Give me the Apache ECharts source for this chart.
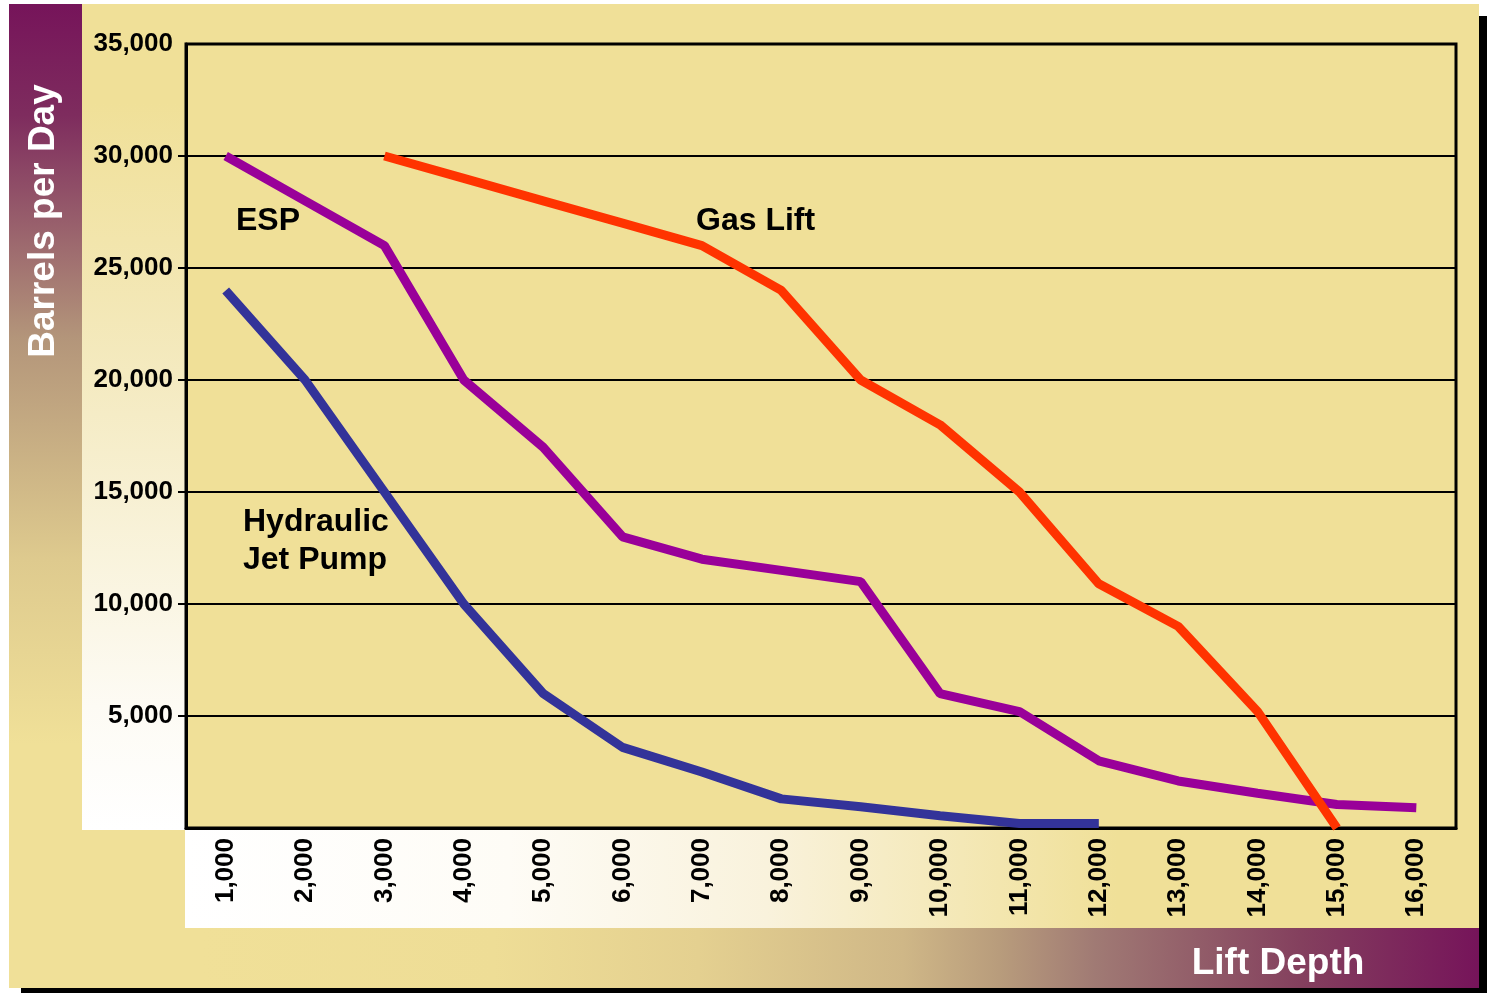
<!DOCTYPE html>
<html>
<head>
<meta charset="utf-8">
<script src="https://cdn.jsdelivr.net/npm/echarts@6/dist/echarts.min.js"></script>
<style>
html,body{margin:0;padding:0;background:#ffffff;}
#chart{width:1487px;height:993px;}
</style>
</head>
<body>
<div id="chart"></div>
<script>
// ---- data ----
const depthLabels = ['1,000','2,000','3,000','4,000','5,000','6,000','7,000','8,000','9,000','10,000','11,000','12,000','13,000','14,000','15,000','16,000'];
const espValues = [30000, 28000, 26000, 20000, 17000, 13000, 12000, 11500, 11000, 6000, 5200, 3000, 2100, 1550, 1050, 900];
const gasLiftValues = [null, null, 30000, 29000, 28000, 27000, 26000, 24000, 20000, 18000, 15000, 10900, 9000, 5200, 0, null];
const jetPumpValues = [24000, 20000, 15000, 10000, 6000, 3600, 2500, 1300, 950, 550, 200, 200, null, null, null, null];
const yTicks = [0, 5000, 10000, 15000, 20000, 25000, 30000, 35000];

const FONT = "'Liberation Sans', Arial, Helvetica, sans-serif";
const CARD = '#F0E098';

const chart = echarts.init(document.getElementById('chart'), null, {renderer: 'canvas'});

const fmt = v => v === 0 ? '' : String(v).replace(/\B(?=(\d{3})+(?!\d))/g, ',');

const option = {
  backgroundColor: 'transparent',
  animation: false,
  graphic: [
    // shadow
    {type: 'rect', z: -20, shape: {x: 21, y: 16, width: 1466, height: 977}, style: {fill: '#000000'}},
    // card
    {type: 'rect', z: -19, shape: {x: 9, y: 4, width: 1470, height: 984}, style: {fill: CARD}},
    // left bar gradient
    {type: 'rect', z: -18, shape: {x: 9, y: 4, width: 73, height: 740},
      style: {fill: new echarts.graphic.LinearGradient(0, 0, 0, 1, [
        {offset: 0, color: '#76145A'},
        {offset: 0.15, color: '#7E2C5E'},
        {offset: 0.45, color: '#B3957A'},
        {offset: 0.75, color: '#DECA8E'},
        {offset: 1, color: CARD}
      ])}},
    // white column behind y labels
    {type: 'rect', z: -18, shape: {x: 82, y: 4, width: 104, height: 826},
      style: {fill: new echarts.graphic.LinearGradient(0, 0, 0, 1, [
        {offset: 0, color: CARD},
        {offset: 0.12, color: CARD},
        {offset: 0.45, color: '#F4EAC0'},
        {offset: 0.85, color: '#FDFBF4'},
        {offset: 1, color: '#FFFFFF'}
      ])}},
    // x label strip
    {type: 'rect', z: -18, shape: {x: 185, y: 828, width: 1294, height: 100},
      style: {fill: new echarts.graphic.LinearGradient(0, 0, 1, 0, [
        {offset: 0, color: '#FFFFFF'},
        {offset: 0.25, color: '#FEFCF6'},
        {offset: 0.45, color: '#F9F2DC'},
        {offset: 0.72, color: CARD},
        {offset: 1, color: CARD}
      ])}},
    // bottom bar gradient
    {type: 'rect', z: -18, shape: {x: 200, y: 928, width: 1279, height: 60},
      style: {fill: new echarts.graphic.LinearGradient(0, 0, 1, 0, [
        {offset: 0, color: CARD},
        {offset: 0.23, color: '#EEDD96'},
        {offset: 0.39, color: '#E4D090'},
        {offset: 0.55, color: '#CFB787'},
        {offset: 0.625, color: '#B89C7C'},
        {offset: 0.70, color: '#A07A74'},
        {offset: 0.86, color: '#84405E'},
        {offset: 1, color: '#76145A'}
      ])}},
    // axis titles
    {type: 'text', z: 10, x: 44, y: 221, rotation: Math.PI / 2,
      style: {text: 'Barrels per Day', fill: '#FFFFFF', font: 'bold 37px ' + FONT, align: 'center', verticalAlign: 'middle'}},
    {type: 'text', z: 10, x: 1278, y: 964,
      style: {text: 'Lift Depth', fill: '#FFFFFF', font: 'bold 37px ' + FONT, align: 'center', verticalAlign: 'middle'}},
    // series annotations
    {type: 'text', z: 10, x: 236, y: 221,
      style: {text: 'ESP', fill: '#000000', font: 'bold 32px ' + FONT, align: 'left', verticalAlign: 'middle'}},
    {type: 'text', z: 10, x: 696, y: 221,
      style: {text: 'Gas Lift', fill: '#000000', font: 'bold 32px ' + FONT, align: 'left', verticalAlign: 'middle'}},
    {type: 'text', z: 10, x: 243, y: 522,
      style: {text: 'Hydraulic', fill: '#000000', font: 'bold 32px ' + FONT, align: 'left', verticalAlign: 'middle'}},
    {type: 'text', z: 10, x: 243, y: 560,
      style: {text: 'Jet Pump', fill: '#000000', font: 'bold 32px ' + FONT, align: 'left', verticalAlign: 'middle'}}
  ],
  grid: {
    left: 186, top: 44, right: 31, bottom: 165,
    show: true, backgroundColor: 'transparent', borderColor: '#000000', borderWidth: 3,
    containLabel: false
  },
  xAxis: {
    type: 'category',
    data: depthLabels,
    boundaryGap: true,
    axisLine: {show: true, lineStyle: {color: '#000000', width: 3}},
    axisTick: {show: false},
    splitLine: {show: false},
    axisLabel: {
      rotate: 90, margin: 10, interval: 0,
      color: '#000000', fontFamily: FONT, fontWeight: 'bold', fontSize: 26
    }
  },
  yAxis: {
    type: 'value',
    min: yTicks[0], max: yTicks[yTicks.length - 1], interval: yTicks[1] - yTicks[0],
    axisLine: {show: true, lineStyle: {color: '#000000', width: 3}},
    axisTick: {show: true, length: 8, inside: false, customValues: yTicks.slice(1, -1), lineStyle: {color: '#000000', width: 2}},
    splitLine: {show: true, lineStyle: {color: '#000000', width: 2}},
    axisLabel: {
      margin: 13, formatter: fmt,
      color: '#000000', fontFamily: FONT, fontWeight: 'bold', fontSize: 26
    }
  },
  series: [
    {name: 'ESP', type: 'line', data: espValues, symbol: 'none', z: 3,
      lineStyle: {color: '#990099', width: 9, cap: 'butt', join: 'bevel'}},
    {name: 'Hydraulic Jet Pump', type: 'line', data: jetPumpValues, symbol: 'none', z: 3,
      lineStyle: {color: '#333399', width: 9, cap: 'butt', join: 'bevel'}},
    {name: 'Gas Lift', type: 'line', data: gasLiftValues, symbol: 'none', z: 4,
      lineStyle: {color: '#FF3300', width: 9, cap: 'butt', join: 'bevel'}}
  ]
};
chart.setOption(option);
</script>
</body>
</html>
